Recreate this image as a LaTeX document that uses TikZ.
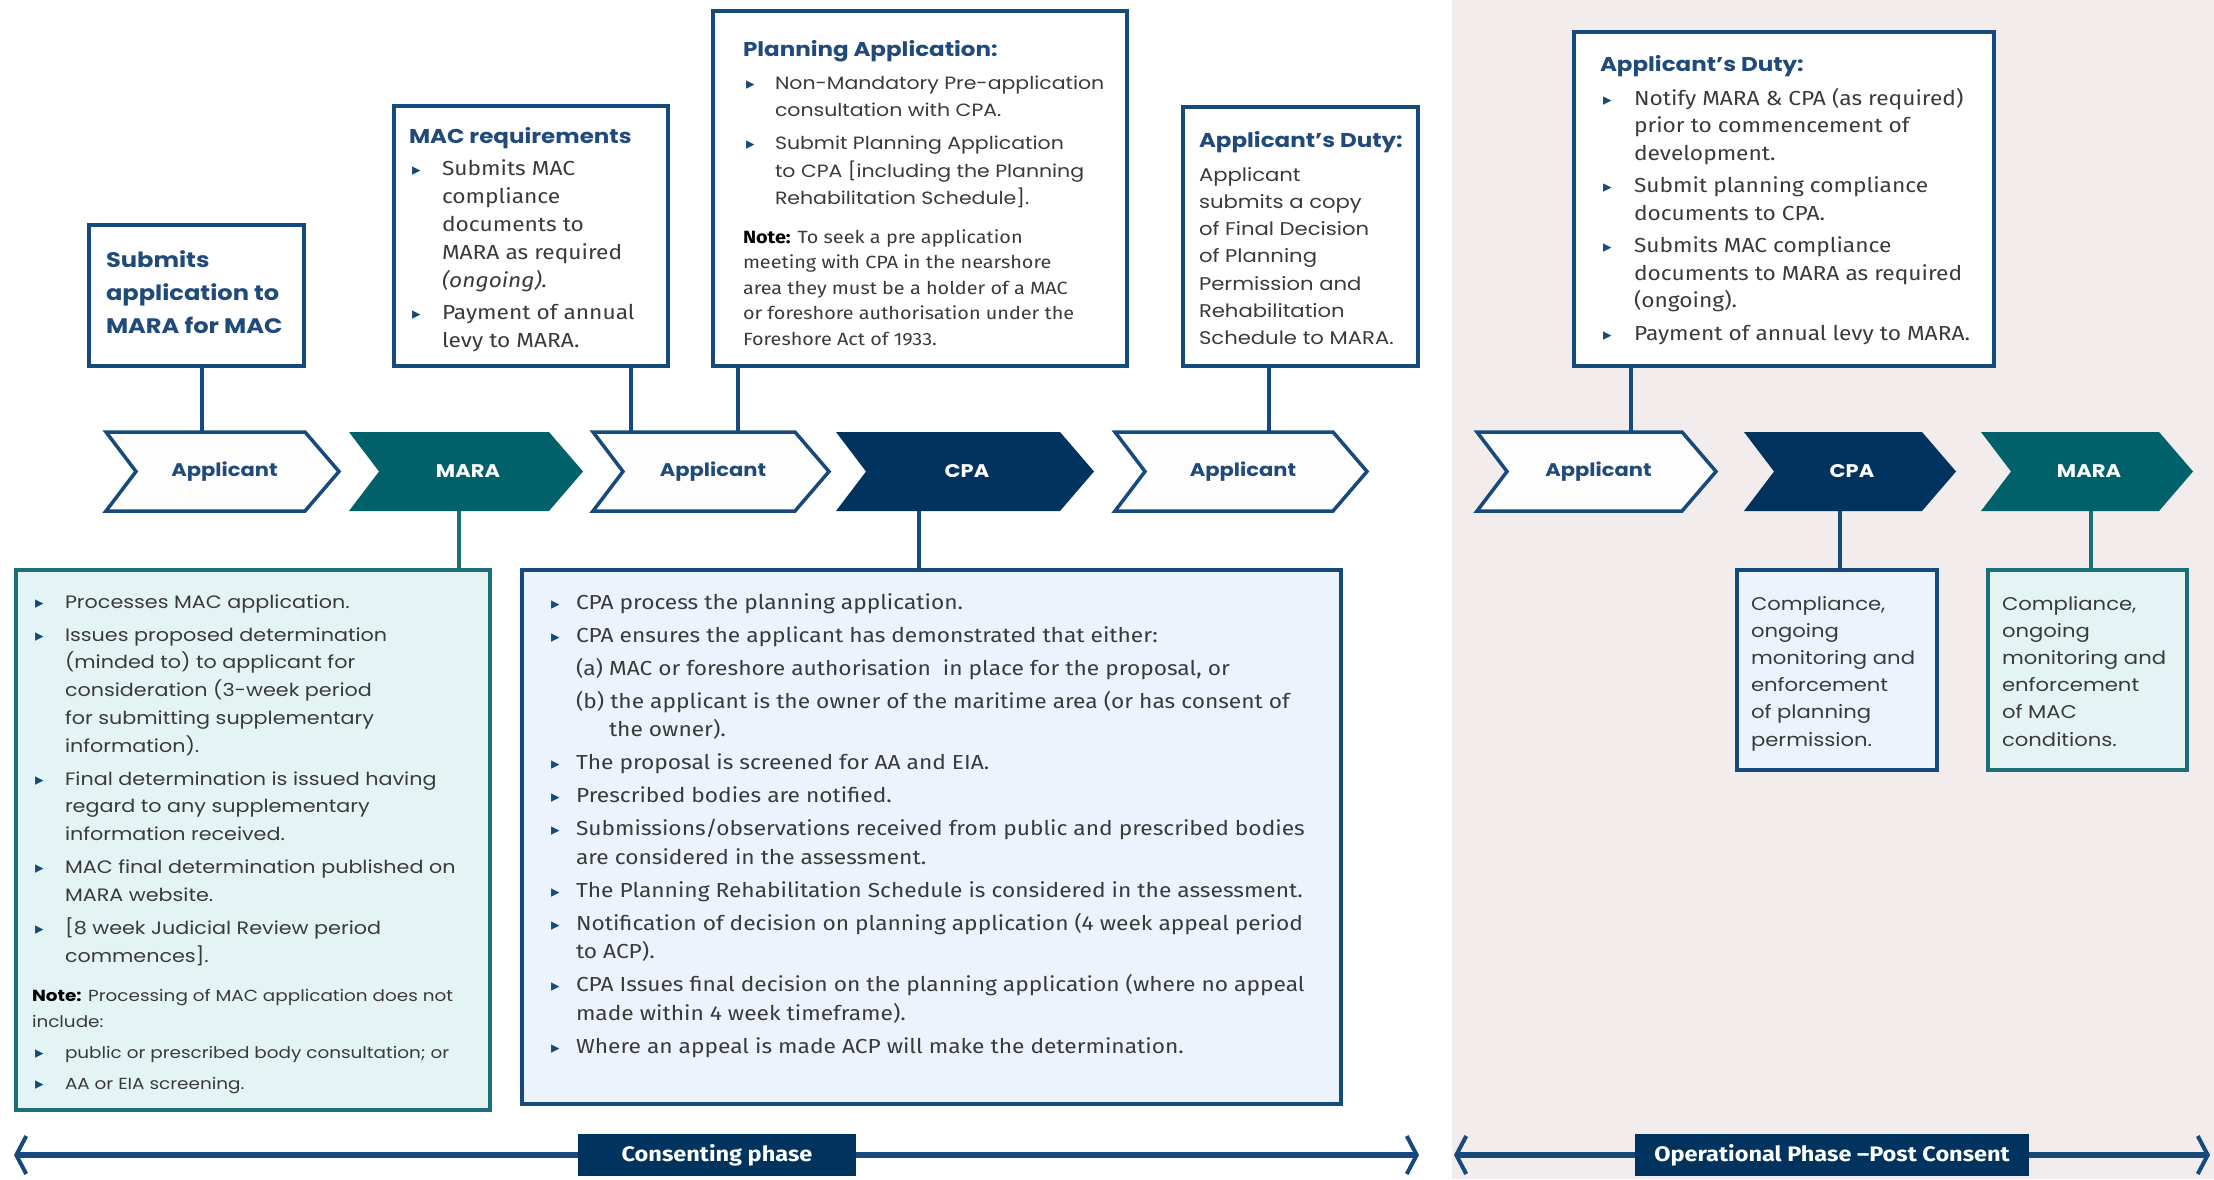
\documentclass[tikz,border=0pt]{standalone}
\usepackage{fontspec}
\setmainfont{Poppins}[FakeStretch=1.15]
\newfontfamily\hum{Fira Sans}[FakeStretch=1.12]
\newfontfamily\dejavu{DejaVu Sans}
\usetikzlibrary{arrows.meta}
\definecolor{navy}{HTML}{174A7C}
\definecolor{navyfill}{HTML}{00345F}
\definecolor{tealfill}{HTML}{00616B}
\definecolor{tealline}{HTML}{1C6E78}
\definecolor{headc}{HTML}{1F4A7A}
\definecolor{bodyc}{HTML}{3A3A3A}
\definecolor{pinkbg}{HTML}{F2ECEC}
\definecolor{cpafill}{HTML}{EDF3FC}
\definecolor{marafill}{HTML}{E4F4F5}
\definecolor{chevwhite}{HTML}{FDFDFE}
\newcommand{\bul}{{\dejavu\fontsize{17}{17}\selectfont\textcolor{navy}{▸}}}
\newcommand{\tb}[1]{\begin{tabular}[t]{@{}l@{}}#1\end{tabular}}
\newcommand{\bt}[2]{\begin{tabular}[t]{@{}p{#1}@{}l@{}}#2\end{tabular}}
\newcommand{\chev}[5]{%
  \node[chevsize, minimum width={#3-#2}, anchor=west] (#1) at (#2,471.5) {};
  \path[#4] (#1.north west) -- ([xshift=-34pt]#1.north east) -- (#1.east)
     -- ([xshift=-34pt]#1.south east) -- (#1.south west) -- ([xshift=30pt]#1.west) -- cycle;
  \node[chevtext, #4text] (#1-t) at ([xshift=2pt]#1.center) {#5};
}
\begin{document}
\begin{tikzpicture}[x=1pt,y=-1pt,
  box/.style={draw=navy, line width=3.5pt, fill=white, inner sep=0pt, outer sep=0pt, anchor=north west},
  cpabox/.style={box, fill=cpafill},
  marabox/.style={box, draw=tealline, fill=marafill},
  conn/.style={draw=navy, line width=3.5pt},
  tconn/.style={draw=tealline, line width=3.5pt},
  txt/.style={inner sep=0pt, outer sep=0pt, anchor=base west, text=bodyc},
  head/.style={txt, text=headc, font=\fontsize{20}{28}\selectfont\bfseries},
  body/.style={txt, font=\fontsize{18}{27.5}\selectfont},
  hbody/.style={txt, font=\hum\fontsize{20.3}{28}\selectfont},
  chevsize/.style={minimum height=79pt, inner sep=0pt, outer sep=0pt},
  chevtext/.style={inner sep=0pt, font=\fontsize{18.3}{22}\selectfont\bfseries},
  cw/.style={fill=chevwhite, draw=navy, line width=3.5pt},
  cwtext/.style={text=headc},
  cn/.style={fill=navyfill},
  cntext/.style={text=white},
  ct/.style={fill=tealfill},
  cttext/.style={text=white},
  phase/.style={fill=navyfill, text=white, minimum height=42pt, inner sep=0pt, font=\hum\fontsize{21}{24}\selectfont\bfseries},
  parrow/.style={draw=navy, line width=6pt, {Straight Barb[length=10pt,width=38pt,line width=4pt]}-{Straight Barb[length=10pt,width=38pt,line width=4pt]}}
]
\useasboundingbox (0,0) rectangle (2214,1179);
\fill[white] (0,0) rectangle (1452,1179);
\fill[pinkbg] (1452,0) rectangle (2214,1179);

% connector x positions
\coordinate (k1) at (202,0);
\coordinate (k2) at (631,0);
\coordinate (k3) at (738,0);
\coordinate (k4) at (1269,0);
\coordinate (k5) at (1631,0);
\coordinate (k6) at (459,0);
\coordinate (k7) at (919,0);
\coordinate (k8) at (1840,0);
\coordinate (k9) at (2091,0);

% top boxes
\node[box, minimum width=215, minimum height=141] (submit) at (89,225) {};
\node[box, minimum width=274, minimum height=260] (macreq) at (394,106) {};
\node[box, minimum width=414, minimum height=355] (plan) at (713,11) {};
\node[box, minimum width=235, minimum height=259] (dutyA) at (1183,107) {};
\node[box, minimum width=420, minimum height=334] (dutyB) at (1574,32) {};

% bottom boxes
\node[marabox, minimum width=474, minimum height=540] (marab) at (16,570) {};
\node[cpabox, minimum width=819, minimum height=534] (cpab) at (522,570) {};
\node[cpabox, minimum width=200, minimum height=200] (compC) at (1737,570) {};
\node[marabox, minimum width=199, minimum height=200] (compM) at (1988,570) {};

% chevrons
\chev{ch1}{106}{339}{cw}{Applicant}
\chev{ch2}{349}{583}{ct}{MARA}
\chev{ch3}{593}{829}{cw}{Applicant}
\chev{ch4}{836}{1094}{cn}{CPA}
\chev{ch5}{1115}{1367}{cw}{Applicant}
\chev{ch6}{1477}{1716}{cw}{Applicant}
\chev{ch7}{1744}{1956}{cn}{CPA}
\chev{ch8}{1981}{2193}{ct}{MARA}

% connectors
\draw[conn] (submit.south -| k1) -- (ch1.north -| k1);
\draw[conn] (macreq.south -| k2) -- (ch3.north -| k2);
\draw[conn] (plan.south -| k3) -- (ch3.north -| k3);
\draw[conn] (dutyA.south -| k4) -- (ch5.north -| k4);
\draw[conn] (dutyB.south -| k5) -- (ch6.north -| k5);
\draw[tconn] (ch2.south -| k6) -- (marab.north -| k6);
\draw[conn] (ch4.south -| k7) -- (cpab.north -| k7);
\draw[conn] (ch7.south -| k8) -- (compC.north -| k8);
\draw[tconn] (ch8.south -| k9) -- (compM.north -| k9);

% texts: submit
\node[txt, text=headc, font=\fontsize{21}{33}\selectfont\bfseries] (submit-t) at (106,267)
  {\tb{Submits\\application to\\MARA for MAC}};

% MAC requirements
\node[head] (macreq-h) at (409,143) {MAC requirements};
\node[hbody] (macreq-t) at (412,175) {\bt{30pt}{%
\bul & Submits MAC\\ & compliance\\ & documents to\\ & MARA as required\\ & \textit{(ongoing).}\\[4pt]
\bul & Payment of annual\\ & levy to MARA.}};

% Planning application
\node[head] (plan-h) at (743,56) {Planning Application:};
\node[body, font=\fontsize{17.8}{27.5}\selectfont] (plan-t) at (746,89) {\bt{29pt}{%
\bul & Non-Mandatory Pre-application\\ & consultation with CPA.\\[5.5pt]
\bul & Submit Planning Application\\ & to CPA [including the Planning\\ & Rehabilitation Schedule].}};
\node[txt, font=\hum\fontsize{17.7}{25.5}\selectfont] (plan-n) at (743,243) {\tb{%
{\color{black}\bfseries Note:} To seek a pre application\\ meeting with CPA in the nearshore\\ area they must be a holder of a MAC\\ or foreshore authorisation under the\\ Foreshore Act of 1933.}};

% Applicant's duty (consenting)
\node[head] (dutyA-h) at (1199,147) {Applicant’s Duty:};
\node[body, font=\fontsize{18.4}{27.3}\selectfont] (dutyA-t) at (1199,181) {\tb{%
Applicant\\ submits a copy\\ of Final Decision\\ of Planning\\ Permission and\\ Rehabilitation\\ Schedule to MARA.}};

% Applicant's duty (operational)
\node[head] (dutyB-h) at (1600,71) {Applicant’s Duty:};
\node[hbody, font=\hum\fontsize{20.3}{27.5}\selectfont] (dutyB-t) at (1603,105) {\bt{31pt}{%
\bul & Notify MARA \& CPA (as required)\\ & prior to commencement of\\ & development.\\[5pt]
\bul & Submit planning compliance\\ & documents to CPA.\\[5pt]
\bul & Submits MAC compliance\\ & documents to MARA as required\\ & (ongoing).\\[5pt]
\bul & Payment of annual levy to MARA.}};

% MARA processing box
\node[body, font=\fontsize{18}{27.7}\selectfont] (marab-t) at (35,608) {\bt{30pt}{%
\bul & Processes MAC application.\\[5.5pt]
\bul & Issues proposed determination\\ & (minded to) to applicant for\\ & consideration (3-week period\\ & for submitting supplementary\\ & information).\\[5.5pt]
\bul & Final determination is issued having\\ & regard to any supplementary\\ & information received.\\[5.5pt]
\bul & MAC final determination published on\\ & MARA website.\\[5.5pt]
\bul & [8 week Judicial Review period\\ & commences].}};
\node[txt, font=\fontsize{16}{26}\selectfont] (marab-n) at (32,1001) {\tb{%
{\color{black}\bfseries Note:} Processing of MAC application does not\\ include:}};
\node[txt, font=\fontsize{16}{26}\selectfont] (marab-l) at (35,1058) {\bt{30pt}{%
\bul & public or prescribed body consultation; or\\[5pt]
\bul & AA or EIA screening.}};

% CPA processing box
\node[hbody, font=\hum\fontsize{20.3}{28.5}\selectfont] (cpab-t) at (551,609) {\bt{25pt}{%
\bul & CPA process the planning application.\\[4.5pt]
\bul & CPA ensures the applicant has demonstrated that either:\\[4.5pt]
 & (a) MAC or foreshore authorisation\ \ in place for the proposal, or\\[4.5pt]
 & (b) the applicant is the owner of the maritime area (or has consent of\\
 & \hspace*{33pt}the owner).\\[4.5pt]
\bul & The proposal is screened for AA and EIA.\\[4.5pt]
\bul & Prescribed bodies are notified.\\[4.5pt]
\bul & Submissions/observations received from public and prescribed bodies\\ & are considered in the assessment.\\[4.5pt]
\bul & The Planning Rehabilitation Schedule is considered in the assessment.\\[4.5pt]
\bul & Notification of decision on planning application (4 week appeal period\\ & to ACP).\\[4.5pt]
\bul & CPA Issues final decision on the planning application (where no appeal\\ & made within 4 week timeframe).\\[4.5pt]
\bul & Where an appeal is made ACP will make the determination.}};

% compliance boxes
\node[body, font=\fontsize{18.4}{27.2}\selectfont] (compC-t) at (1751,610) {\tb{%
Compliance,\\ ongoing\\ monitoring and\\ enforcement\\ of planning\\ permission.}};
\node[body, font=\fontsize{18.4}{27.2}\selectfont] (compM-t) at (2002,610) {\tb{%
Compliance,\\ ongoing\\ monitoring and\\ enforcement\\ of MAC\\ conditions.}};

% phase arrows
\coordinate (pa1) at (14,1155);
\coordinate (pa2) at (1419,1155);
\coordinate (pb1) at (1454,1155);
\coordinate (pb2) at (2210,1155);
\draw[parrow] (pa1) -- (pa2);
\draw[parrow] (pb1) -- (pb2);
\node[phase, minimum width=278] (phaseA) at (717,1155) {Consenting phase};
\node[phase, minimum width=394] (phaseB) at (1832,1155) {Operational Phase –Post Consent};
\end{tikzpicture}
\end{document}
